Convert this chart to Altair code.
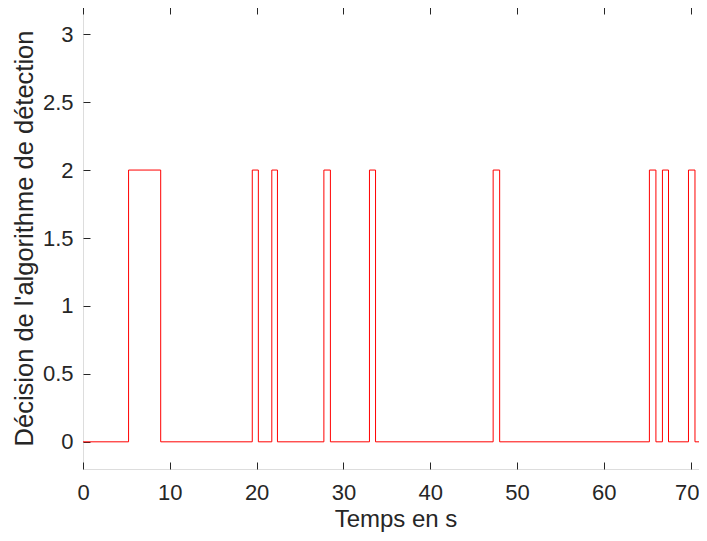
import altair as alt
import pandas as pd

# step signal: change times (s) and decision value held from each time on
times = [0, 5.25, 8.95, 19.5, 20.2, 21.75, 22.4, 27.75, 28.5, 33.0, 33.7,
         47.25, 48.0, 65.25, 66.0, 66.75, 67.45, 69.75, 70.5, 72.0]
decision = [0, 2, 0, 2, 0, 2, 0, 2, 0, 2, 0, 2, 0, 2, 0, 2, 0, 2, 0, 0]
x_ticks = [0, 10, 20, 30, 40, 50, 60, 70]
y_ticks = [0, 0.5, 1, 1.5, 2, 2.5, 3]

df = pd.DataFrame({"t": times, "d": decision})

FONT = "Liberation Sans"
AX = "#262626"
xs = alt.Scale(domain=[0, 72], nice=False, zero=False)
ys = alt.Scale(domain=[-0.2, 3.2], nice=False, zero=False)

common = dict(grid=False, domain=False, tickSize=7, offset=-7, tickColor=AX,
              tickWidth=1, labelFont=FONT, labelColor=AX, labelFontSize=22,
              labelFlush=False, titleFont=FONT, titleColor=AX,
              titleFontWeight="normal")

line = alt.Chart(df).mark_line(color="#ff0000", strokeWidth=1,
                               interpolate="step-after", clip=True).encode(
    x=alt.X("t:Q", scale=xs,
            axis=alt.Axis(orient="bottom", values=x_ticks, title="Temps en s",
                          titleFontSize=24, labelPadding=13, titlePadding=4,
                          labelOffset={"condition": {"test": "datum.value == 70",
                                                     "value": -4},
                                       "value": 0},
                          **common)),
    y=alt.Y("d:Q", scale=ys,
            axis=alt.Axis(orient="left", values=y_ticks, format="~g",
                          title="Décision de l'algorithme de détection",
                          titleFontSize=25.5, labelPadding=10, titlePadding=5,
                          **common)),
)

frame = alt.Chart(df).mark_line(opacity=0).encode(
    x=alt.X("t:Q", scale=xs,
            axis=alt.Axis(orient="top", values=x_ticks, labels=False, title="",
                          **common)),
    y=alt.Y("d:Q", scale=ys,
            axis=alt.Axis(orient="right", values=y_ticks, labels=False, title="",
                          **common)),
)

chart = alt.layer(line, frame).resolve_axis(
    x="independent", y="independent"
).properties(
    width=625, height=462,
    autosize=alt.AutoSizeParams(type="none"),
    padding={"left": 75, "top": -1, "right": -9, "bottom": 64},
).configure_view(stroke=AX, strokeWidth=1).configure(background="white")

chart.save("out.html", embed_options={"renderer": "svg", "actions": False})
